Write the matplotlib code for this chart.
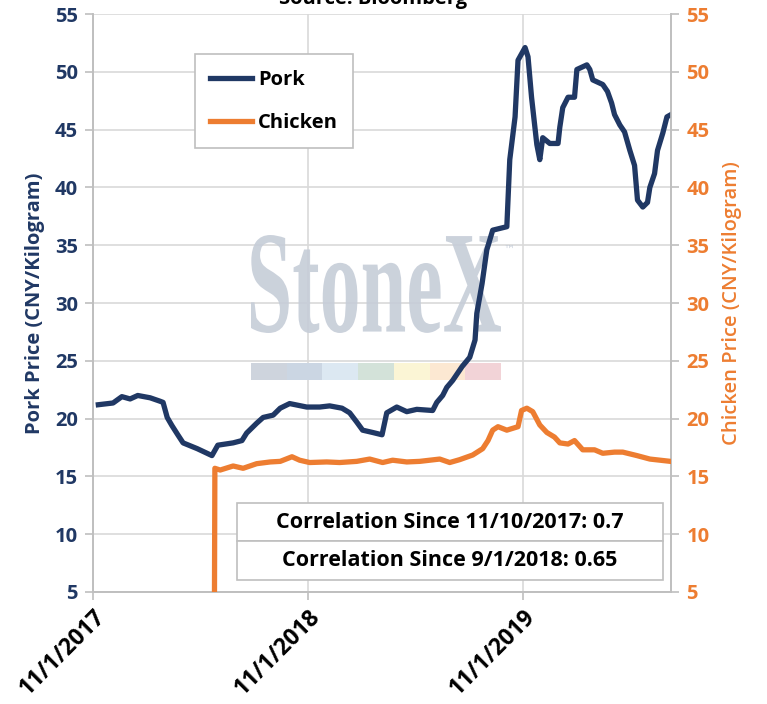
import matplotlib
matplotlib.use('Agg')
import matplotlib.pyplot as plt
import pandas as pd
from matplotlib.textpath import TextPath
from matplotlib.patches import PathPatch, Rectangle
from matplotlib.font_manager import FontProperties
from matplotlib.transforms import Affine2D, ScaledTranslation

# ---------------- data ----------------
pork_dates = ['2017-11-10', '2017-12-05', '2017-12-20', '2018-01-03', '2018-01-16', '2018-02-06',
              '2018-02-23', '2018-02-28', '2018-03-07', '2018-03-15', '2018-03-25', '2018-04-03',
              '2018-04-27', '2018-05-22', '2018-06-01', '2018-06-27', '2018-07-12', '2018-07-20',
              '2018-08-06', '2018-08-17', '2018-09-03', '2018-09-15', '2018-10-01', '2018-10-30',
              '2018-11-21', '2018-12-08', '2018-12-29', '2019-01-11', '2019-01-23', '2019-02-02',
              '2019-02-19', '2019-03-07', '2019-03-15', '2019-04-01', '2019-04-18', '2019-05-05',
              '2019-06-01', '2019-06-08', '2019-06-18', '2019-06-25', '2019-07-05', '2019-07-21',
              '2019-08-03', '2019-08-12', '2019-08-15', '2019-08-24', '2019-09-01', '2019-09-11',
              '2019-10-05', '2019-10-10', '2019-10-19', '2019-10-24', '2019-11-05', '2019-11-10',
              '2019-11-16', '2019-11-25', '2019-11-30', '2019-12-05', '2019-12-17', '2019-12-31',
              '2020-01-03', '2020-01-08', '2020-01-17', '2020-01-28', '2020-02-01', '2020-02-18',
              '2020-02-23', '2020-02-28', '2020-03-16', '2020-03-24', '2020-03-31', '2020-04-05',
              '2020-04-14', '2020-04-22', '2020-05-01', '2020-05-09', '2020-05-14', '2020-05-23',
              '2020-05-31', '2020-06-04', '2020-06-12', '2020-06-17', '2020-06-26', '2020-07-03',
              '2020-07-10']
pork_values = [21.2, 21.35, 21.9, 21.7, 22.0, 21.8,
               21.5, 21.4, 20.1, 19.4, 18.6, 17.9,
               17.4, 16.8, 17.7, 17.9, 18.1, 18.75,
               19.6, 20.1, 20.3, 20.9, 21.3, 21.0,
               21.0, 21.1, 20.9, 20.5, 19.7, 19.0,
               18.8, 18.6, 20.5, 21.0, 20.6, 20.8,
               20.7, 21.4, 22.0, 22.7, 23.3, 24.5,
               25.3, 26.8, 29.1, 31.7, 34.6, 36.3,
               36.6, 42.4, 46.1, 51.0, 52.1, 51.3,
               47.8, 43.7, 42.4, 44.3, 43.8, 43.8,
               45.2, 46.9, 47.8, 47.8, 50.2, 50.6,
               50.2, 49.3, 48.9, 48.3, 47.3, 46.3,
               45.4, 44.8, 43.2, 41.9, 38.9, 38.3,
               38.7, 40.0, 41.2, 43.2, 44.7, 46.1,
               46.3]

chicken_dates = ['2018-05-26', '2018-05-27', '2018-06-05', '2018-06-27', '2018-07-14', '2018-08-06',
                 '2018-08-29', '2018-09-15', '2018-10-05', '2018-10-18', '2018-11-04', '2018-12-03',
                 '2018-12-25', '2019-01-23', '2019-02-14', '2019-03-08', '2019-03-25', '2019-04-18',
                 '2019-05-10', '2019-06-13', '2019-06-30', '2019-07-17', '2019-08-08', '2019-08-25',
                 '2019-09-03', '2019-09-11', '2019-09-20', '2019-10-05', '2019-10-24', '2019-10-30',
                 '2019-11-08', '2019-11-18', '2019-11-30', '2019-12-12', '2019-12-25', '2020-01-03',
                 '2020-01-17', '2020-01-28', '2020-02-11', '2020-03-02', '2020-03-16', '2020-04-05',
                 '2020-04-19', '2020-05-13', '2020-06-04', '2020-07-09']
chicken_values = [0.0, 15.7, 15.55, 15.9, 15.7, 16.1,
                  16.25, 16.3, 16.7, 16.4, 16.2, 16.25,
                  16.2, 16.3, 16.5, 16.2, 16.4, 16.25,
                  16.3, 16.5, 16.2, 16.45, 16.85, 17.4,
                  18.1, 19.0, 19.3, 19.0, 19.3, 20.7,
                  20.9, 20.6, 19.45, 18.8, 18.4, 17.9,
                  17.8, 18.1, 17.3, 17.3, 17.0, 17.1,
                  17.1, 16.8, 16.5, 16.3]

x_tick_dates = ['2017-11-01', '2018-11-01', '2019-11-01']
x_tick_labels = ['11/1/2017', '11/1/2018', '11/1/2019']
x_range = ['2017-11-01', '2020-07-10']
y_ticks = [5, 10, 15, 20, 25, 30, 35, 40, 45, 50, 55]
series_names = ['Pork', 'Chicken']
corr_rows = ['Correlation Since 11/10/2017: 0.7', 'Correlation Since 9/1/2018: 0.65']
title_text = 'Source: Bloomberg'
left_label = 'Pork Price (CNY/Kilogram)'
right_label = 'Chicken Price (CNY/Kilogram)'
watermark_colors = ['#CED4DD', '#CBD6E3', '#DCE8F2', '#D3E2D9', '#FBF5D5', '#FCE8D2', '#F2D3D7']

# ---------------- style ----------------
NAVY = '#203864'
ORANGE = '#ED7D31'
GRID = '#D9D9D9'
SPINE = '#BFBFBF'
FS = 14.5
plt.rcParams['font.family'] = ['Open Sans', 'DejaVu Sans']

fig = plt.figure(figsize=(7.67, 7.04), dpi=100)
ax = fig.add_axes([0.1213, 0.1591, 0.7536, 0.8210])
ax2 = ax.twinx()

pd_pork = pd.to_datetime(pork_dates)
pd_chick = pd.to_datetime(chicken_dates)

ax.set_xlim(pd.to_datetime(x_range[0]), pd.to_datetime(x_range[1]))
ylabels = [str(v) for v in y_ticks]
ax.set_ylim(5, 55)
ax2.set_ylim(5, 55)
ax.set_yticks(y_ticks, labels=ylabels, fontweight='bold', fontsize=FS, color=NAVY)
ax2.set_yticks(y_ticks, labels=ylabels, fontweight='bold', fontsize=FS, color=ORANGE)

ax.grid(True, color=GRID, linewidth=1.2)
ax.set_axisbelow(True)
ax.set_xticks(pd.to_datetime(x_tick_dates), labels=x_tick_labels, rotation=45, ha='right',
              va='top', rotation_mode='anchor', fontsize=16.5, fontweight='bold', color='black')
for lbl in ax.get_xticklabels():
    lbl.set_transform(lbl.get_transform() + ScaledTranslation(11 / 100, 4 / 100, fig.dpi_scale_trans))

for a in (ax, ax2):
    for s in a.spines.values():
        s.set_color(SPINE)
        s.set_linewidth(1.2)
    a.spines['top'].set_visible(False)
    a.tick_params(axis='both', color=SPINE, length=6, width=1.2)
ax.tick_params(axis='y', pad=5)
ax2.tick_params(axis='y', pad=5)

ax.set_ylabel(left_label, color=NAVY, fontsize=FS, fontweight='bold', labelpad=7)
ax2.set_ylabel(right_label, color=ORANGE, fontsize=FS, fontweight='semibold', labelpad=9)

# watermark
wm_font = FontProperties(family='Liberation Serif', weight='bold')
tp = TextPath((0, 0), 'StoneX', size=1, prop=wm_font)
ext = tp.get_extents()
W, H = 767.0, 704.0
sx = (250 / W) / ext.width
sy = (98 / H) / ext.height
tr = Affine2D().translate(-ext.x0, -ext.y0).scale(sx, sy).translate(251 / W, 1 - 333 / H)
ax.add_patch(PathPatch(tp, transform=tr + fig.transFigure, facecolor='#C6CDD8',
                       edgecolor='none', alpha=0.9, zorder=0.6))
fig.text(503 / W, 1 - 253 / H, '\u2122', fontsize=8, color='#C5CDD8', family='DejaVu Sans')
bw = 250 / W / len(watermark_colors)
for i, c in enumerate(watermark_colors):
    ax.add_patch(Rectangle((251 / W + i * bw, 1 - 380 / H), bw, 17 / H, transform=fig.transFigure,
                           facecolor=c, edgecolor='none', zorder=0.6))

# lines
l1, = ax.plot(pd_pork, pork_values, color=NAVY, linewidth=3.8, solid_joinstyle='round', zorder=3)
l2, = ax2.plot(pd_chick, chicken_values, color=ORANGE, linewidth=3.8, solid_joinstyle='round', zorder=3)

leg = ax2.legend([l1, l2], series_names, loc='upper left', bbox_to_anchor=(0.176, 0.93),
                 frameon=True, fancybox=False, edgecolor=SPINE, framealpha=1,
                 prop={'weight': 'bold', 'size': FS}, labelspacing=1.15, handlelength=2.1,
                 handletextpad=0.3, borderpad=0.75, borderaxespad=0)
leg.get_frame().set_linewidth(1.2)

# correlation table
tbl = ax2.table(cellText=[[r] for r in corr_rows], cellLoc='center',
                bbox=[(237 - 93) / 578, (592 - 580) / 578, (663 - 237) / 578, 77 / 578])
tbl.auto_set_font_size(False)
for (r, c), cell in tbl.get_celld().items():
    cell.set_edgecolor(SPINE)
    cell.set_linewidth(1.2)
    cell.get_text().set_fontsize(15.5)
    cell.get_text().set_fontweight('bold')
tbl.set_zorder(5)

fig.text(0.487, 1 - 4 / H, title_text, ha='center', va='baseline', fontsize=FS, fontweight='bold')

fig.savefig('out.png', dpi=100)
